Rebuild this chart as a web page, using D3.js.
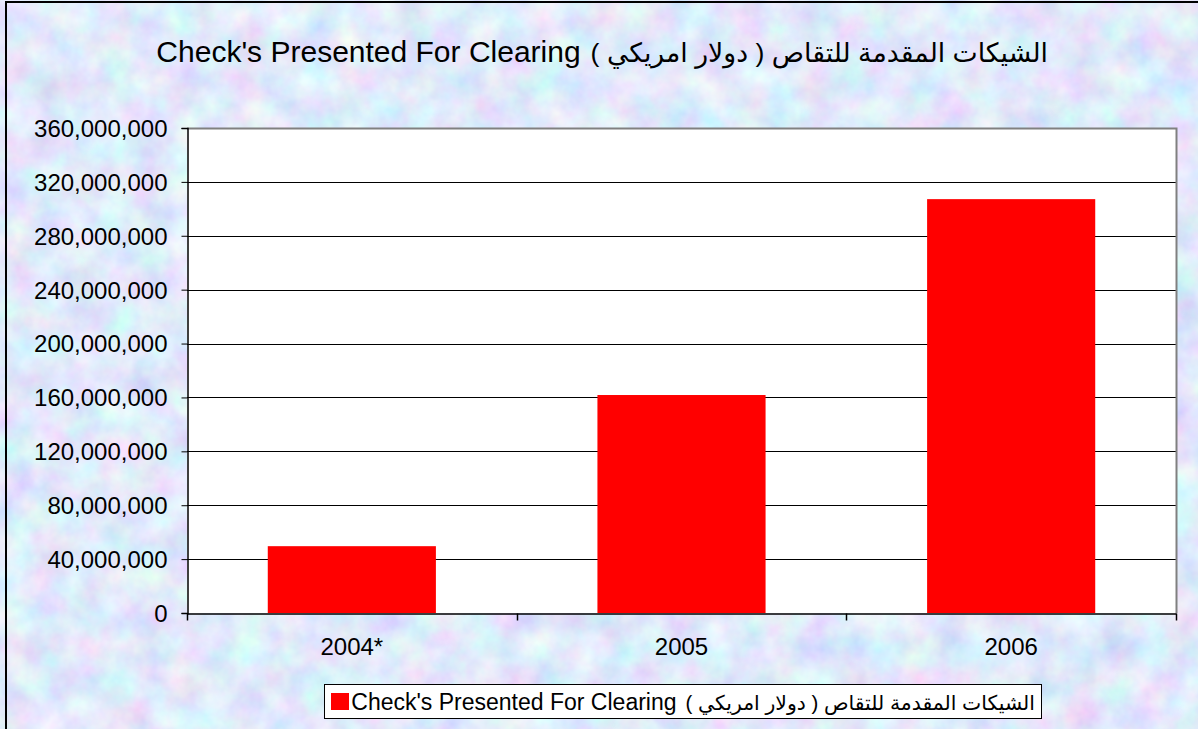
<!DOCTYPE html>
<html>
<head>
<meta charset="utf-8">
<title>Check's Presented For Clearing</title>
<script src="https://cdn.jsdelivr.net/npm/d3@7"></script>
<style>
  body { margin: 0; overflow: hidden; }
  text { font-family: "Liberation Sans", Arial, "DejaVu Sans", sans-serif; fill: #000; }
</style>
</head>
<body>
<script>
// data
var years = ["2004*", "2005", "2006"];
var checks = [49600000, 161800000, 307200000];
var yTicks = [0, 40000000, 80000000, 120000000, 160000000, 200000000, 240000000, 280000000, 320000000, 360000000];
var nameEn = "Check's Presented For Clearing";
var nameAr = "الشيكات المقدمة للتقاص ( دولار امريكي )";

var W = 1198, H = 729;
var plot = {left: 187, top: 128, right: 1176, bottom: 613};

var svg = d3.select("body").append("svg")
    .attr("width", W)
    .attr("height", H);

// mottled blue/pink backdrop
var defs = svg.append("defs");
var f = defs.append("filter").attr("id", "paper")
    .attr("filterUnits", "userSpaceOnUse")
    .attr("x", 0).attr("y", 0).attr("width", W).attr("height", H);
f.append("feTurbulence")
    .attr("type", "fractalNoise")
    .attr("baseFrequency", 0.03)
    .attr("numOctaves", 4)
    .attr("seed", 7);
f.append("feColorMatrix")
    .attr("type", "matrix")
    .attr("values", "0.5 0 0 0 0.5  0 0.5 0 0 0.57  0 0 0.2 0 0.86  0 0 0 0 1");

svg.append("rect")
    .attr("width", W).attr("height", H)
    .attr("filter", "url(#paper)");

// outer chart border (runs off the right / bottom)
svg.append("rect")
    .attr("x", 6).attr("y", 2)
    .attr("width", W + 20).attr("height", H + 20)
    .attr("fill", "none")
    .attr("stroke", "#000")
    .attr("stroke-width", 2);

// two-part label: arabic on the right, english to its left
function bilingual(g, right, baseline, arSize, enSize, gap) {
    var ar = g.append("text")
        .attr("x", right).attr("y", baseline)
        .attr("direction", "rtl")
        .style("unicode-bidi", "embed")
        .attr("text-anchor", "start")
        .attr("font-size", arSize)
        .text(nameAr);
    var arLen = ar.node().getComputedTextLength();
    g.append("text")
        .attr("x", right - arLen - gap).attr("y", baseline)
        .attr("text-anchor", "end")
        .attr("font-size", enSize)
        .text(nameEn);
}

// title
bilingual(svg.append("g"), 1048, 62, 26.7, 30, 10);

var x = d3.scaleBand()
    .domain(years)
    .range([plot.left, plot.right])
    .paddingInner(0.49)
    .paddingOuter(0.245);

var y = d3.scaleLinear()
    .domain([0, 360000000])
    .range([plot.bottom, plot.top]);

// plot area
svg.append("rect")
    .attr("x", plot.left).attr("y", plot.top)
    .attr("width", plot.right - plot.left)
    .attr("height", plot.bottom - plot.top)
    .attr("fill", "#fff");

// gridlines
svg.append("g")
    .selectAll("line")
    .data(yTicks.filter(function(d){ return d > 0 && d < 360000000; }))
    .enter().append("line")
    .attr("x1", plot.left).attr("x2", plot.right)
    .attr("y1", function(d){ return Math.round(y(d)) + 0.5; })
    .attr("y2", function(d){ return Math.round(y(d)) + 0.5; })
    .attr("stroke", "#000")
    .attr("stroke-width", 1);

// border top / right in grey
svg.append("path")
    .attr("d", "M" + plot.left + "," + (plot.top + 0.5) + "H" + (plot.right + 0.5) + "V" + plot.bottom)
    .attr("fill", "none")
    .attr("stroke", "#808080")
    .attr("stroke-width", 2);

// bars
svg.append("g")
    .selectAll("rect")
    .data(checks)
    .enter().append("rect")
    .attr("x", function(d, i){ return x(years[i]); })
    .attr("y", function(d){ return y(d); })
    .attr("width", x.bandwidth())
    .attr("height", function(d){ return plot.bottom - y(d); })
    .attr("fill", "#ff0000");

// y axis
var yAxis = svg.append("g")
    .attr("transform", "translate(" + (plot.left + 0.5) + ",0)")
    .call(d3.axisLeft(y).tickValues(yTicks).tickFormat(d3.format(",")).tickSize(6).tickPadding(14));
yAxis.select(".domain").attr("stroke", "#000").attr("stroke-width", 1.5);
yAxis.selectAll(".tick line").attr("stroke", "#000");
yAxis.selectAll("text").attr("font-size", 24).attr("font-family", null).attr("dy", "0.35em");

// x axis, ticks sit on category boundaries
var xAxis = svg.append("g")
    .attr("transform", "translate(0," + (plot.bottom + 0.5) + ")")
    .call(d3.axisBottom(x).tickSize(0).tickPadding(24));
xAxis.select(".domain").attr("stroke", "#000").attr("stroke-width", 1.5);
xAxis.selectAll("text").attr("font-size", 24).attr("font-family", null);
var step = x.step();
xAxis.selectAll(".bound")
    .data(d3.range(years.length + 1))
    .enter().append("line")
    .attr("class", "bound")
    .attr("x1", function(i){ return Math.round(plot.left + i * step) + 0.5; })
    .attr("x2", function(i){ return Math.round(plot.left + i * step) + 0.5; })
    .attr("y1", 0).attr("y2", 7)
    .attr("stroke", "#000")
    .attr("stroke-width", 1.5);

// legend
var lg = svg.append("g");
lg.append("rect")
    .attr("x", 324.5).attr("y", 684.5)
    .attr("width", 717).attr("height", 34)
    .attr("fill", "#fff")
    .attr("stroke", "#000");
lg.append("rect")
    .attr("x", 331).attr("y", 693)
    .attr("width", 18).attr("height", 17)
    .attr("fill", "#ff0000");
bilingual(lg, 1035, 710, 20.4, 23, 9);
</script>
</body>
</html>
